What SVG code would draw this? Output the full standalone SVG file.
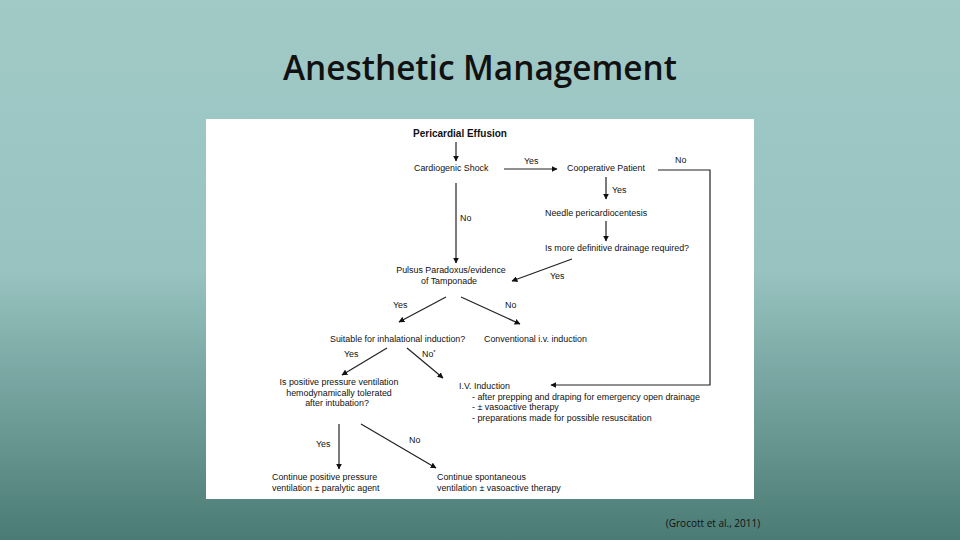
<svg xmlns="http://www.w3.org/2000/svg" width="960" height="540" viewBox="0 0 960 540">
<defs>
<linearGradient id="bg" x1="0" y1="0" x2="0" y2="1">
<stop offset="0" stop-color="#a1cac7"/>
<stop offset="0.5" stop-color="#98c3c0"/>
<stop offset="1" stop-color="#4b7b75"/>
</linearGradient>
<marker id="ah" viewBox="0 0 10 10" refX="9" refY="5" markerWidth="6" markerHeight="6" orient="auto" markerUnits="userSpaceOnUse">
<path d="M0,0 L10,5 L0,10 z" fill="#111"/>
</marker>
<style>
.t{font-family:"Liberation Sans",Arial,sans-serif;font-size:8.9px;fill:#111}
.b{font-weight:bold;font-size:10px}
.l{stroke:#222;stroke-width:1.2;fill:none}
.a{marker-end:url(#ah)}
</style>
</defs>
<rect width="960" height="540" fill="url(#bg)"/>
<text x="480" y="80" text-anchor="middle" font-family="'Open Sans','Noto Sans',sans-serif" font-size="34" font-weight="600" fill="#111" textLength="394" lengthAdjust="spacingAndGlyphs">Anesthetic Management</text>
<rect x="206" y="119" width="548" height="380" fill="#fff"/>

<g id="connectors">
<path class="l a" d="M456,142 L456,161"/>
<path class="l a" d="M504,169 L557,169"/>
<path class="l a" d="M658,170 L710,170 L710,385 L551,385"/>
<path class="l a" d="M606,177 L606,199"/>
<path class="l a" d="M606,221 L606,241"/>
<path class="l a" d="M456,183 L456,263"/>
<path class="l a" d="M572,259 L512,281"/>
<path class="l a" d="M446,297 L399,322"/>
<path class="l a" d="M461,297 L520,324"/>
<path class="l a" d="M387,348 L342,375"/>
<path class="l a" d="M407,348 L443,378"/>
<path class="l a" d="M339,424 L339,469"/>
<path class="l a" d="M361,424 L436,468"/>
<text class="t" x="524" y="164">Yes</text>
<text class="t" x="675" y="163">No</text>
<text class="t" x="612" y="193">Yes</text>
<text class="t" x="460" y="221">No</text>
<text class="t" x="550" y="279">Yes</text>
<text class="t" x="393" y="308">Yes</text>
<text class="t" x="505" y="308">No</text>
<text class="t" x="344" y="357">Yes</text>
<text class="t" x="422" y="357">No<tspan dy="-3" font-size="6">*</tspan></text>
<text class="t" x="316" y="447">Yes</text>
<text class="t" x="409" y="443">No</text>
</g>

<g id="n-effusion"><text class="t b" x="460" y="137" text-anchor="middle">Pericardial Effusion</text></g>
<g id="n-shock"><text class="t" x="414" y="171">Cardiogenic Shock</text></g>
<g id="n-coop"><text class="t" x="567" y="171">Cooperative Patient</text></g>
<g id="n-needle"><text class="t" x="545" y="216">Needle pericardiocentesis</text></g>
<g id="n-drainage"><text class="t" x="545" y="251">Is more definitive drainage required?</text></g>
<g id="n-pulsus"><text class="t" x="451" y="273" text-anchor="middle">Pulsus Paradoxus/evidence<tspan x="449" dy="10.5">of Tamponade</tspan></text></g>
<g id="n-suitable"><text class="t" x="330" y="342">Suitable for inhalational induction?</text></g>
<g id="n-conventional"><text class="t" x="484" y="342">Conventional i.v. induction</text></g>
<g id="n-ppv"><text class="t" x="339" y="385" text-anchor="middle">Is positive pressure ventilation<tspan x="339" dy="10.5">hemodynamically tolerated</tspan><tspan x="337" dy="10.5">after intubation?</tspan></text></g>
<g id="n-iv"><text class="t" x="459" y="389">I.V. Induction<tspan x="472" dy="10.5">- after prepping and draping for emergency  open drainage</tspan><tspan x="472" dy="10.5">- ± vasoactive therapy</tspan><tspan x="472" dy="10.5">- preparations made for possible resuscitation</tspan></text></g>
<g id="n-cont-ppv"><text class="t" x="272" y="480">Continue positive  pressure<tspan x="272" dy="11">ventilation ± paralytic agent</tspan></text></g>
<g id="n-cont-spont"><text class="t" x="437" y="480">Continue spontaneous<tspan x="437" dy="11">ventilation ± vasoactive therapy</tspan></text></g>

<text x="713" y="527" text-anchor="middle" font-family="'Open Sans','Noto Sans',sans-serif" font-size="10" fill="#111">(Grocott et al., 2011)</text>
</svg>
